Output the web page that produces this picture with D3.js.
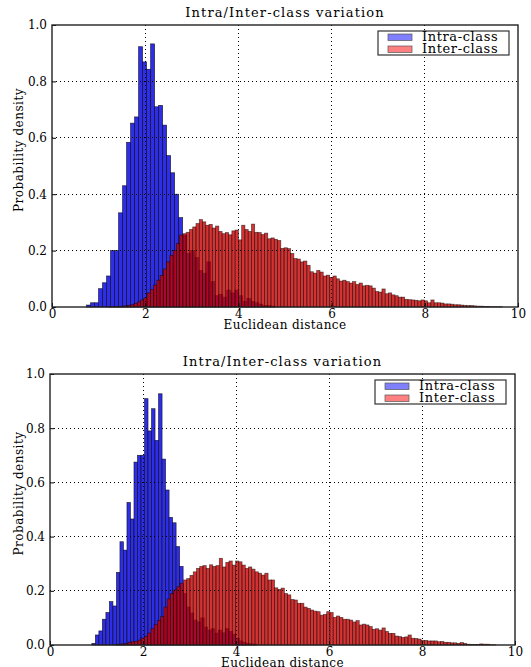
<!DOCTYPE html>
<html>
<head>
<meta charset="utf-8">
<script src="https://cdn.jsdelivr.net/npm/d3@7"></script>
<style>
    body { margin: 0; background: #fff; }
    text { font-family: "DejaVu Serif", serif; fill: #000; }
</style>
</head>
<body>
<svg id="chart" width="531" height="667"></svg>
<script>
// ─── Data ────────────────────────────────────────────────────────────────────
const chartTitle  = "Intra/Inter-class variation";
const xLabel      = "Euclidean distance";
const yLabel      = "Probability density";
const seriesNames = ["Intra-class", "Inter-class"];
const xTicks      = [0, 2, 4, 6, 8, 10];
const yTicks      = [0, 0.2, 0.4, 0.6, 0.8, 1.0];

// histogram bins: first edge + bin width, then one density per bin
const intraTopBins = { start: 0.74, width: 0.086 };
const intraTop = [
    0.007, 0.015, 0.015, 0.065, 0.086, 0.11, 0.20, 0.20, 0.334, 0.43,
    0.584, 0.652, 0.674, 0.923, 0.869, 0.843, 0.933, 0.71, 0.715, 0.645,
    0.537, 0.476, 0.40, 0.317, 0.255, 0.19, 0.20, 0.175, 0.13, 0.12,
    0.16, 0.09, 0.04, 0.045, 0.035, 0.06, 0.05, 0.06, 0.04, 0.02,
    0.03, 0.02, 0.015, 0.01, 0.005, 0.005, 0.003
];

const interTopBins = { start: 1.2, width: 0.07 };
const interTop = [
    0.001, 0.001, 0.002, 0.002, 0.003, 0.004, 0.006, 0.008, 0.012, 0.018,
    0.025, 0.032, 0.05, 0.062, 0.078, 0.095, 0.112, 0.135, 0.16, 0.183,
    0.20, 0.225, 0.255, 0.26, 0.265, 0.275, 0.284, 0.296, 0.31, 0.302,
    0.29, 0.293, 0.28, 0.287, 0.268, 0.26, 0.264, 0.256, 0.27, 0.273,
    0.238, 0.29, 0.275, 0.268, 0.294, 0.265, 0.264, 0.257, 0.262, 0.242,
    0.245, 0.24, 0.236, 0.208, 0.21, 0.207, 0.19, 0.172, 0.17, 0.16,
    0.163, 0.148, 0.125, 0.12, 0.13, 0.124, 0.11, 0.113, 0.105, 0.11,
    0.10, 0.092, 0.095, 0.09, 0.085, 0.09, 0.08, 0.085, 0.075, 0.077,
    0.075, 0.067, 0.055, 0.053, 0.064, 0.047, 0.05, 0.043, 0.04, 0.035,
    0.035, 0.027, 0.026, 0.025, 0.024, 0.022, 0.025, 0.022, 0.015, 0.025,
    0.015, 0.015, 0.014, 0.011, 0.011, 0.01, 0.008, 0.008, 0.007, 0.006,
    0.005, 0.005, 0.004, 0.003, 0.003, 0.002, 0.002, 0.001, 0.001, 0.001,
    0.001
];

const intraBottomBins = { start: 0.9, width: 0.0755 };
const intraBottom = [
    0.006, 0.037, 0.052, 0.095, 0.12, 0.16, 0.144, 0.268, 0.381, 0.35,
    0.526, 0.465, 0.675, 0.70, 0.70, 0.909, 0.79, 0.872, 0.755, 0.927,
    0.686, 0.572, 0.471, 0.451, 0.363, 0.29, 0.19, 0.14, 0.118, 0.092,
    0.085, 0.10, 0.066, 0.055, 0.06, 0.044, 0.055, 0.045, 0.06, 0.05,
    0.04, 0.025, 0.015, 0.01, 0.006, 0.004, 0.003
];

const interBottomBins = { start: 1.4, width: 0.07 };
const interBottom = [
    0.002, 0.003, 0.004, 0.006, 0.01, 0.012, 0.014, 0.018, 0.026, 0.032,
    0.044, 0.06, 0.075, 0.09, 0.105, 0.14, 0.17, 0.19, 0.203, 0.215,
    0.228, 0.24, 0.245, 0.257, 0.27, 0.283, 0.29, 0.293, 0.283, 0.296,
    0.29, 0.293, 0.32, 0.288, 0.305, 0.31, 0.295, 0.31, 0.307, 0.295,
    0.283, 0.288, 0.28, 0.27, 0.265, 0.258, 0.265, 0.24, 0.24, 0.211,
    0.205, 0.21, 0.19, 0.185, 0.168, 0.166, 0.154, 0.154, 0.14, 0.135,
    0.129, 0.125, 0.123, 0.11, 0.113, 0.123, 0.12, 0.102, 0.107, 0.102,
    0.095, 0.095, 0.092, 0.085, 0.09, 0.074, 0.077, 0.074, 0.068, 0.058,
    0.06, 0.055, 0.063, 0.05, 0.043, 0.043, 0.033, 0.031, 0.028, 0.03,
    0.037, 0.025, 0.024, 0.022, 0.017, 0.017, 0.015, 0.015, 0.015, 0.012,
    0.013, 0.01, 0.01, 0.008, 0.008, 0.006, 0.009, 0.006, 0.003, 0.002,
    0.002, 0.002, 0.004, 0.003, 0.003, 0.001, 0.001
];

// ─── Layout ──────────────────────────────────────────────────────────────────
const panels = [
    { box: { left: 52, right: 518, top: 25,  bottom: 307 },
      intra: { bins: intraTopBins, values: intraTop },
      inter: { bins: interTopBins, values: interTop } },
    { box: { left: 50, right: 515, top: 374, bottom: 645 },
      intra: { bins: intraBottomBins, values: intraBottom },
      inter: { bins: interBottomBins, values: interBottom } },
];

const INTRA_FILL  = "#2e2ee8";
const INTER_FILL  = "rgb(200,0,0)";
const INTER_ALPHA = 0.8;

const svg = d3.select("#chart");

function toBins({ start, width }, values) {
    return values.map((v, i) => ({ x0: start + i * width, x1: start + (i + 1) * width, v }));
}

function drawPanel(p) {
    const { left, right, top, bottom } = p.box;
    const x = d3.scaleLinear().domain([0, 10]).range([left, right]);
    const y = d3.scaleLinear().domain([0, 1]).range([bottom, top]);
    const g = svg.append("g");

    // bars: intra first, inter on top (semi transparent → dark overlap)
    g.append("g").selectAll("rect")
        .data(toBins(p.intra.bins, p.intra.values))
        .join("rect")
        .attr("x", d => x(d.x0))
        .attr("width", d => x(d.x1) - x(d.x0))
        .attr("y", d => y(d.v))
        .attr("height", d => y(0) - y(d.v))
        .attr("fill", INTRA_FILL)
        .attr("stroke", "#000").attr("stroke-width", 0.7).attr("stroke-opacity", 0.75);

    g.append("g").selectAll("rect")
        .data(toBins(p.inter.bins, p.inter.values))
        .join("rect")
        .attr("x", d => x(d.x0))
        .attr("width", d => x(d.x1) - x(d.x0))
        .attr("y", d => y(d.v))
        .attr("height", d => y(0) - y(d.v))
        .attr("fill", INTER_FILL).attr("fill-opacity", INTER_ALPHA)
        .attr("stroke", "#000").attr("stroke-width", 0.7).attr("stroke-opacity", 0.6);

    // dotted grid, drawn above the bars like the original
    const grid = g.append("g").attr("stroke", "#000").attr("stroke-width", 1)
        .attr("stroke-dasharray", "1,3").attr("shape-rendering", "crispEdges");
    grid.selectAll(".gx").data(xTicks.slice(1, -1)).join("line")
        .attr("x1", d => x(d)).attr("x2", d => x(d)).attr("y1", top).attr("y2", bottom);
    grid.selectAll(".gy").data(yTicks.slice(1, -1)).join("line")
        .attr("y1", d => y(d)).attr("y2", d => y(d)).attr("x1", left).attr("x2", right);

    // axes with inward ticks
    const ax = g.append("g").attr("transform", `translate(0,${bottom})`)
        .call(d3.axisBottom(x).tickValues(xTicks).tickFormat(d3.format("d"))
            .tickSizeInner(-4).tickSizeOuter(0).tickPadding(2));
    const ay = g.append("g").attr("transform", `translate(${left},0)`)
        .call(d3.axisLeft(y).tickValues(yTicks).tickFormat(d3.format(".1f"))
            .tickSizeInner(-4).tickSizeOuter(0).tickPadding(5));
    [ax, ay].forEach(a => {
        a.select(".domain").remove();
        a.selectAll("text").style("font-family", "DejaVu Serif").style("font-size", "12px");
    });

    g.append("rect")
        .attr("x", left).attr("y", top)
        .attr("width", right - left).attr("height", bottom - top)
        .attr("fill", "none").attr("stroke", "#222").attr("stroke-width", 1.4);

    // titles
    g.append("text")
        .attr("x", (left + right) / 2).attr("y", top - 8)
        .attr("text-anchor", "middle").style("font-size", "13px")
        .style("letter-spacing", "1.1px")
        .text(chartTitle);
    g.append("text")
        .attr("x", (left + right) / 2).attr("y", bottom + 22)
        .attr("text-anchor", "middle").style("font-size", "12px")
        .style("letter-spacing", "0.4px")
        .text(xLabel);
    g.append("text")
        .attr("transform", `translate(23,${(top + bottom) / 2 - 16}) rotate(-90)`)
        .attr("text-anchor", "middle").style("font-size", "12px")
        .style("letter-spacing", "0.5px")
        .text(yLabel);

    // legend
    const lg = g.append("g").attr("transform", `translate(${right - 140},${top + 6})`);
    lg.append("rect").attr("width", 131).attr("height", 24)
        .attr("fill", "#fff").attr("stroke", "#333").attr("stroke-width", 1.2);
    const legendFill = ["#8080ff", "#ff8080"];
    seriesNames.forEach((name, i) => {
        lg.append("rect").attr("x", 10).attr("y", 3 + i * 12).attr("width", 24).attr("height", 6.5)
            .attr("fill", legendFill[i]).attr("stroke", "#555").attr("stroke-width", 0.7);
        lg.append("text").attr("x", 44).attr("y", 10 + i * 12)
            .style("font-size", "13px").style("letter-spacing", "0.6px").text(name);
    });
}

panels.forEach(drawPanel);
</script>
</body>
</html>
